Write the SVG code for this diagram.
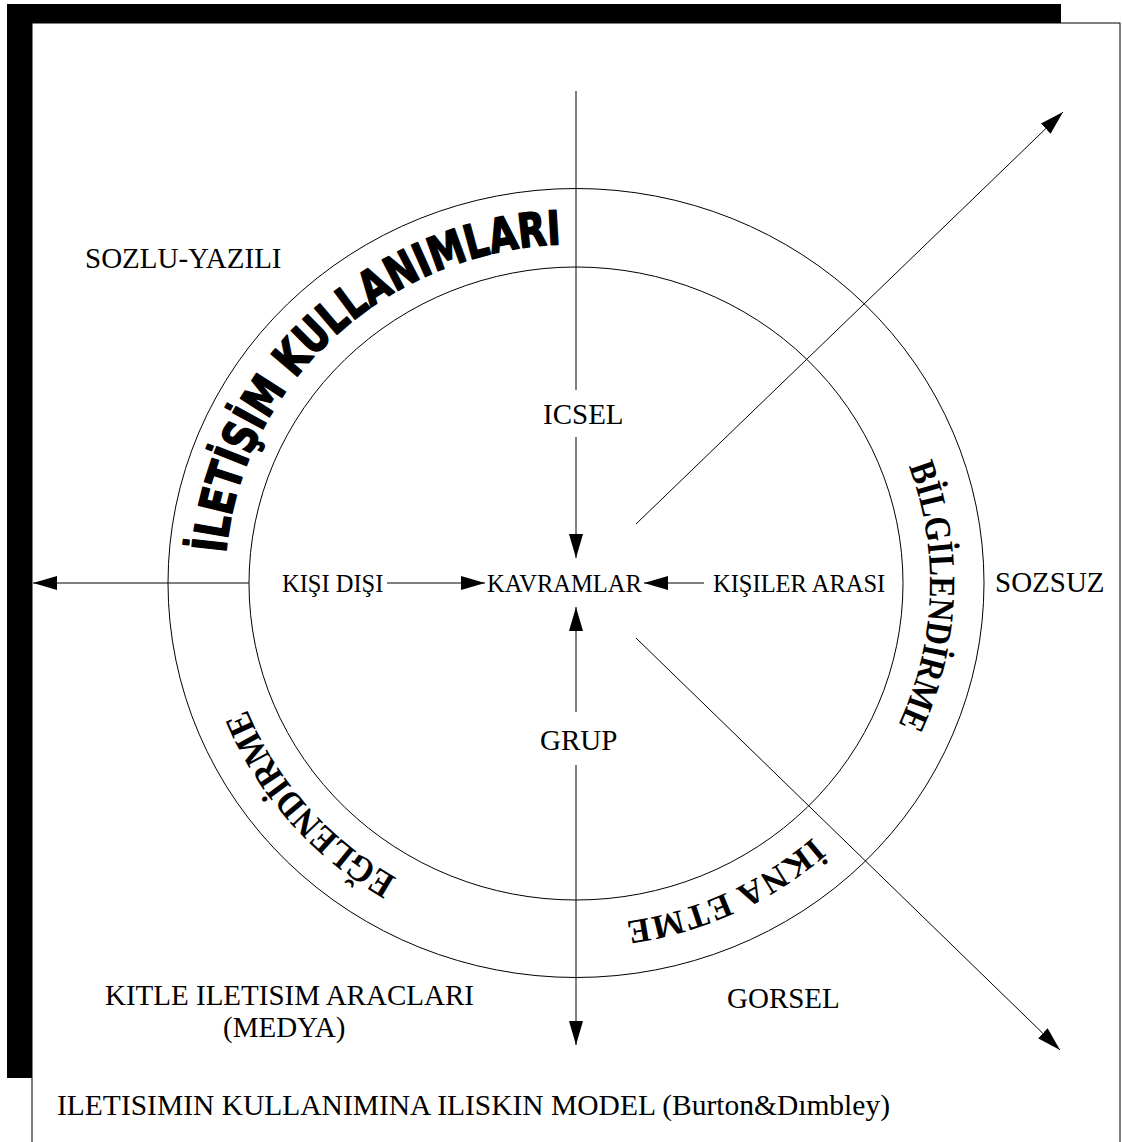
<svg xmlns="http://www.w3.org/2000/svg" width="1122" height="1142" viewBox="0 0 1122 1142">
<style>
.lbl{font-family:"Liberation Serif","Times New Roman",serif;fill:#000}
.big{font-size:29px}
.mid{font-size:24.5px}
.arc{font-family:"Liberation Serif","Times New Roman",serif;font-weight:bold;font-size:37px;fill:#000}
.wa{font-family:"DejaVu Sans","Liberation Sans",sans-serif;font-weight:bold;font-size:47px;fill:#000;stroke:#000;stroke-width:1.6;stroke-linejoin:round}
.ln{stroke:#000;stroke-width:1;fill:none}
.ring{stroke:#000;stroke-width:1;fill:none}
</style>
<defs>
<marker id="ah" markerUnits="userSpaceOnUse" markerWidth="24" markerHeight="14" refX="24" refY="7" orient="auto"><path d="M0,0 L24,7 L0,14 z" fill="#000"/></marker>
<path id="p-iletisim" d="M225.9,553.5 A351,339 0 0 1 563.7,244.2"/>
<path id="p-bilgi" d="M908.6,466.0 A354,342 0 0 1 900.6,719.4"/>
<path id="p-eglen" d="M396.9,878.0 A354,342 0 0 1 246.0,706.7"/>
<path id="p-ikna" d="M812.9,837.2 A354,342 0 0 1 619.1,922.4"/>
</defs>
<g id="frame">
<rect x="7" y="4" width="1054" height="1074" fill="#000"/>
<rect x="32" y="23" width="1088" height="1130" fill="#fff" stroke="#000" stroke-width="1"/>
</g>
<g id="rings">
<ellipse class="ring" cx="576" cy="583" rx="408" ry="394.5"/>
<ellipse class="ring" cx="576" cy="583.5" rx="327" ry="316.5"/>
</g>
<g id="connectors">
<line class="ln" x1="576" y1="91" x2="576" y2="390"/>
<line class="ln" x1="576" y1="437" x2="576" y2="558" marker-end="url(#ah)"/>
<line class="ln" x1="576" y1="712" x2="576" y2="607" marker-end="url(#ah)"/>
<line class="ln" x1="576" y1="765" x2="576" y2="1045" marker-end="url(#ah)"/>
<line class="ln" x1="249" y1="583" x2="33" y2="583" marker-end="url(#ah)"/>
<line class="ln" x1="387" y1="583" x2="485" y2="583" marker-end="url(#ah)"/>
<line class="ln" x1="704" y1="583" x2="644" y2="583" marker-end="url(#ah)"/>
<line class="ln" x1="636" y1="524" x2="1063" y2="112" marker-end="url(#ah)"/>
<line class="ln" x1="636" y1="638" x2="1060" y2="1050" marker-end="url(#ah)"/>
</g>
<g id="node-iletisim-kullanimlari"><text class="wa" textLength="498" lengthAdjust="spacingAndGlyphs"><textPath href="#p-iletisim">İLETİŞİM KULLANIMLARI</textPath></text></g>
<g id="node-bilgilendirme"><text class="arc" textLength="266" lengthAdjust="spacingAndGlyphs"><textPath href="#p-bilgi">BİLGİLENDİRME</textPath></text></g>
<g id="node-eglendirme"><text class="arc" textLength="230" lengthAdjust="spacingAndGlyphs"><textPath href="#p-eglen">EĞLENDİRME</textPath></text></g>
<g id="node-ikna-etme"><text class="arc" style="font-size:34px" textLength="208"><textPath href="#p-ikna">İKNA ETME</textPath></text></g>
<g id="node-sozlu-yazili"><text class="lbl big" x="85" y="268">SOZLU-YAZILI</text></g>
<g id="node-icsel"><text class="lbl big" x="543" y="424">ICSEL</text></g>
<g id="node-kisi-disi"><text class="lbl mid" x="282" y="592">KIŞI DIŞI</text></g>
<g id="node-kavramlar"><text class="lbl mid" x="487" y="592">KAVRAMLAR</text></g>
<g id="node-kisiler-arasi"><text class="lbl mid" x="713" y="592">KIŞILER ARASI</text></g>
<g id="node-sozsuz"><text class="lbl big" x="995" y="592">SOZSUZ</text></g>
<g id="node-grup"><text class="lbl big" x="540" y="750">GRUP</text></g>
<g id="node-kitle"><text class="lbl big" x="105" y="1005">KITLE ILETISIM ARACLARI</text><text class="lbl big" x="223" y="1037">(MEDYA)</text></g>
<g id="node-gorsel"><text class="lbl big" x="727" y="1008">GORSEL</text></g>
<g id="caption"><text class="lbl" style="font-size:29.5px" x="57" y="1115">ILETISIMIN KULLANIMINA ILISKIN MODEL (Burton&amp;Dımbley)</text></g>
</svg>
